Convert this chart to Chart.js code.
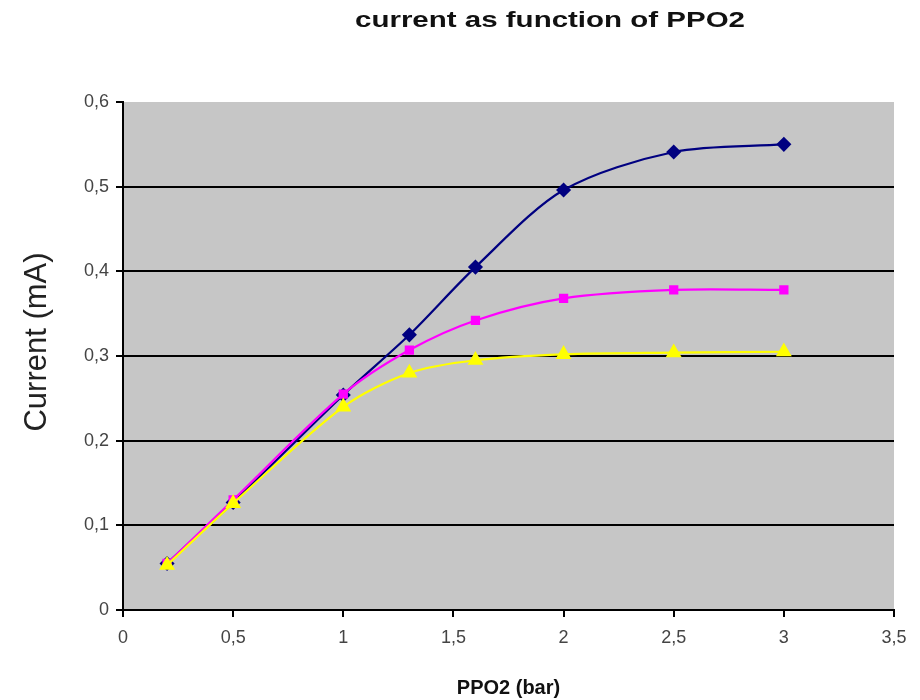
<!DOCTYPE html>
<html>
<head>
<meta charset="utf-8">
<script src="https://cdn.jsdelivr.net/npm/chart.js@4.4.0/dist/chart.umd.min.js"></script>
<style>
  html, body { margin: 0; padding: 0; background: #ffffff; }
  #wrap { width: 920px; height: 700px; }
</style>
</head>
<body>
<div id="wrap"><canvas id="chart-ppo2"></canvas></div>
<script>
// ── Data ────────────────────────────────────────────────────
const ppo2 = [0.2, 0.5, 1, 1.3, 1.6, 2, 2.5, 3];
const blueCurrent   = [0.055, 0.127, 0.254, 0.325, 0.405, 0.496, 0.541, 0.550];
const pinkCurrent   = [0.055, 0.130, 0.255, 0.307, 0.342, 0.368, 0.378, 0.378];
const yellowCurrent = [0.053, 0.126, 0.240, 0.280, 0.295, 0.302, 0.304, 0.305];

const TITLE = 'current as function of PPO2';
const Y_TITLE = 'Current (mA)';
const X_TITLE = 'PPO2 (bar)';

// ── Global config ───────────────────────────────────────────
const FONT = "'Liberation Sans', Arial, sans-serif";
Chart.defaults.font.family = FONT;
Chart.defaults.animation = false;

const toPoints = (ys) => ppo2.map((x, i) => ({ x: x, y: ys[i] }));
const comma = (v) => String(Math.round(v * 10) / 10).replace('.', ',');

function series(data, color, style, radius, order) {
    return {
        data: toPoints(data),
        borderColor: color,
        backgroundColor: color,
        pointBackgroundColor: color,
        pointBorderColor: color,
        pointStyle: style,
        pointRadius: radius,
        borderWidth: 2.2,
        tension: 0.3,
        fill: false,
        order: order,
    };
}

// gray plot area, chart title and rotated y title
const decorations = {
    id: 'decorations',
    beforeDraw(chart) {
        const { ctx, chartArea: a } = chart;
        ctx.save();
        ctx.fillStyle = '#c6c6c6';
        ctx.fillRect(a.left, a.top, a.right - a.left, a.bottom - a.top);
        ctx.restore();
    },
    afterDraw(chart) {
        const ctx = chart.ctx;
        ctx.save();
        // title, widened like the original
        ctx.font = 'bold 22px ' + FONT;
        ctx.fillStyle = '#111';
        ctx.textAlign = 'center';
        ctx.textBaseline = 'middle';
        const w = ctx.measureText(TITLE).width;
        ctx.translate(550, 21);
        ctx.scale(390 / w, 1);
        ctx.fillText(TITLE, 0, 0);
        ctx.restore();

        ctx.save();
        ctx.font = '31px ' + FONT;
        ctx.fillStyle = '#222';
        ctx.textAlign = 'center';
        ctx.textBaseline = 'middle';
        ctx.translate(37, 342);
        ctx.rotate(-Math.PI / 2);
        ctx.fillText(Y_TITLE, 0, 0);
        ctx.restore();
    },
};

new Chart(document.getElementById('chart-ppo2'), {
    type: 'line',
    data: {
        datasets: [
            series(blueCurrent, '#000080', 'rectRot', 6, 2),
            series(pinkCurrent, '#ff00ff', 'rect', 5, 1),
            series(yellowCurrent, '#ffff00', 'triangle', 7, 0),
        ],
    },
    options: {
        responsive: true,
        maintainAspectRatio: false,
        layout: { padding: { top: 102, right: 26, left: 0, bottom: 0 } },
        plugins: {
            legend: { display: false },
            tooltip: { enabled: false },
        },
        scales: {
            x: {
                type: 'linear',
                min: 0,
                max: 3.5,
                grid: {
                    display: true,
                    drawOnChartArea: false,
                    tickLength: 7,
                    tickColor: '#000',
                    lineWidth: 2,
                },
                border: { color: '#000', width: 2 },
                ticks: {
                    stepSize: 0.5,
                    color: '#444',
                    font: { size: 18 },
                    padding: 10,
                    callback: (v) => comma(v),
                },
                title: {
                    display: true,
                    text: X_TITLE,
                    color: '#111',
                    font: { size: 20, weight: 'bold' },
                    padding: { top: 10, bottom: 0 },
                },
                afterFit: (s) => { s.height = 90; },
            },
            y: {
                min: 0,
                max: 0.6,
                grid: {
                    color: (c) => (c.tick && c.tick.value >= 0.6 ? 'rgba(0,0,0,0)' : '#000'),
                    lineWidth: 2,
                    tickLength: 7,
                    tickColor: '#000',
                },
                border: { color: '#000', width: 2 },
                ticks: {
                    stepSize: 0.1,
                    color: '#444',
                    font: { size: 18 },
                    padding: 7,
                    callback: (v) => comma(v),
                },
                afterFit: (s) => { s.width = 123; },
            },
        },
    },
    plugins: [decorations],
});
</script>
</body>
</html>
